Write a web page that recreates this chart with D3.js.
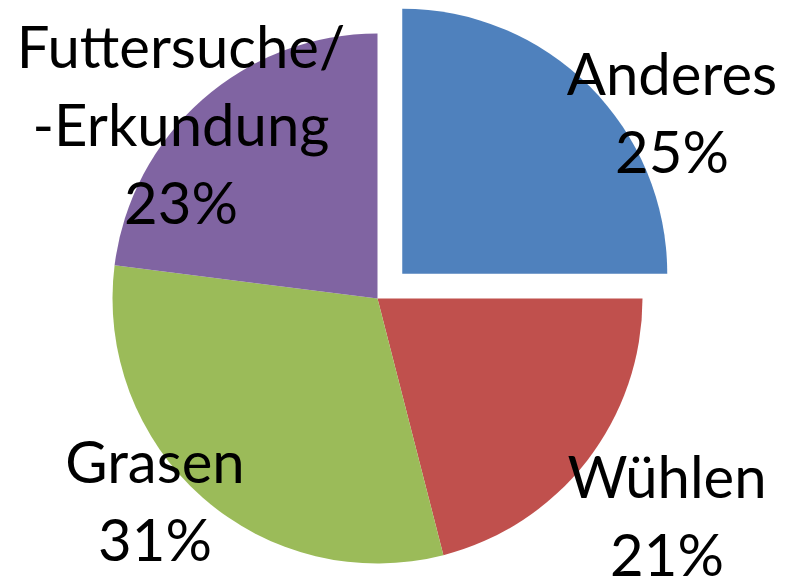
<!DOCTYPE html>
<html lang="de">
<head>
<meta charset="UTF-8">
<title>Pie</title>
<style>
  body { margin: 0; background: #fff; }
  text { font-family: Lato, "Open Sans", sans-serif; fill: #000; }
</style>
</head>
<body>
<script src="https://d3js.org/d3.v7.min.js"></script>
<div id="chart"></div>
<script>
    const categories = ["Anderes", "Wühlen", "Grasen", "Futtersuche/\n-Erkundung"]
    const values = [25, 21, 31, 23]
    const colors = ["#4F81BD", "#C0504D", "#9BBB59", "#8064A2"]

    const WIDTH = 786, HEIGHT = 581
    const CX = 377.5, CY = 298.5, R = 265
    const EXPLODE = 35   // only first slice pulled out
    const LINE = 78

    // label anchor (centre x, first baseline) per slice
    const labelPos = [
        { x: 672, y: 95 },
        { x: 667, y: 498 },
        { x: 155, y: 483 },
        { x: 181, y: 68 }
    ]

    const svg = d3.select("#chart").append("svg")
        .attr("width", WIDTH)
        .attr("height", HEIGHT)

    const data = categories.map((c, i) => ({ name: c, value: values[i], color: colors[i] }))

    const pie = d3.pie().value(d => d.value).sort(null)
    const arc = d3.arc().innerRadius(0).outerRadius(R)

    const g = svg.append("g").attr("transform", `translate(${CX}, ${CY})`)

    g.selectAll("path")
        .data(pie(data))
        .join("path")
        .attr("d", arc)
        .attr("fill", d => d.data.color)
        .attr("transform", (d, i) => {
            if (i !== 0) return null
            const mid = (d.startAngle + d.endAngle) / 2
            return `translate(${EXPLODE * Math.sin(mid)}, ${-EXPLODE * Math.cos(mid)})`
        })

    const fmt = d3.format(".0%")
    const total = d3.sum(values)

    data.forEach((d, i) => {
        const lines = d.name.split("\n").concat([fmt(d.value / total)])
        const t = svg.append("text")
            .attr("text-anchor", "middle")
            .attr("font-size", 58)
        lines.forEach((l, k) => {
            t.append("tspan")
                .attr("x", labelPos[i].x)
                .attr("y", labelPos[i].y + k * LINE)
                .text(l)
        })
    })
</script>
</body>
</html>
